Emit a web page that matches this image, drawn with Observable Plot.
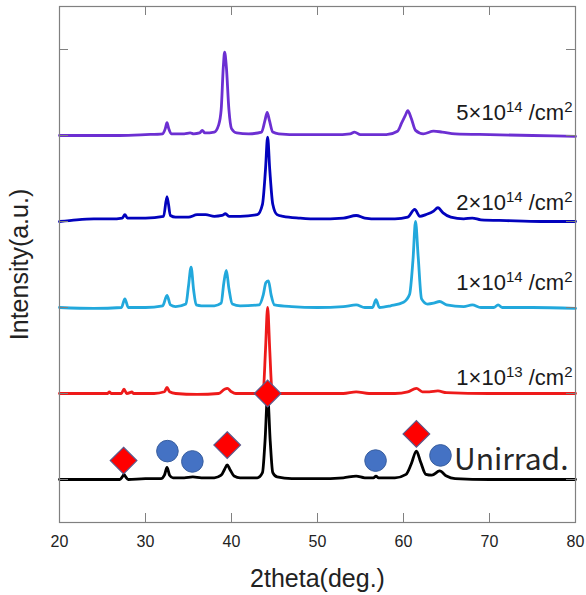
<!DOCTYPE html>
<html><head><meta charset="utf-8">
<script src="https://cdn.jsdelivr.net/npm/d3@7"></script>
<script src="https://cdn.jsdelivr.net/npm/@observablehq/plot@0.6"></script>
<style>html,body{margin:0;padding:0;background:#fff}</style>
</head><body><div id="chart"></div>
<script>
// ---- data ----
const xTicks = [20, 30, 40, 50, 60, 70, 80];
const yTicks = [0, 1, 2, 3, 4, 5];
const seriesNames = ["Unirrad.", "1×10^13 /cm^2", "1×10^14 /cm^2", "2×10^14 /cm^2", "5×10^14 /cm^2"];

const unirradiated = [[20,0],[22,0],[24,0],[26,0],[27,0],[27.3,0.03],[27.5,0.06],[27.7,0.03],[28,0],[30,0.01],[31.8,0.01],[32.2,0.05],[32.5,0.14],[32.8,0.05],[33.2,0.02],[34.5,0.02],[35.5,0.03],[36.5,0.02],[38,0.02],[38.8,0.05],[39.2,0.12],[39.5,0.17],[39.8,0.12],[40.3,0.04],[41,0.02],[43,0.02],[43.6,0.08],[43.9,0.45],[44.2,0.98],[44.5,0.45],[44.8,0.08],[45.3,0.03],[47,0.01],[50,0.01],[53,0.02],[54.5,0.04],[55.5,0.02],[56.5,0.02],[56.8,0.04],[57.1,0.02],[59,0.02],[60.3,0.06],[60.9,0.18],[61.5,0.33],[62,0.2],[62.6,0.06],[63.3,0.05],[64.2,0.1],[65,0.04],[66,0.01],[70,0],[75,0],[80,0]];

const dose1e13 = [[20,0],[24,0],[25.6,0],[25.8,0.02],[26,0],[27.2,0],[27.5,0.05],[27.8,0],[28.2,0.01],[28.4,0.02],[28.6,0],[31,0],[32.2,0.02],[32.5,0.07],[32.8,0.02],[33.5,0],[36,-0.01],[38.5,0],[39.2,0.05],[39.5,0.06],[40,0.02],[40.5,0],[43,0],[43.7,0.05],[43.95,0.5],[44.2,1.0],[44.45,0.5],[44.7,0.05],[45.2,0],[50,0],[53,0],[54.5,0.02],[56,0],[59,0],[60.5,0.02],[61.5,0.06],[62.2,0.02],[63,0.02],[64,0.03],[65,0.01],[70,0],[75,0],[80,0]];

const dose1e14 = [[20,0],[24,-0.01],[27.2,0],[27.6,0.1],[28,0],[30,0],[32,0.02],[32.5,0.14],[32.9,0.03],[33.5,0.01],[34.7,0.04],[35,0.25],[35.3,0.47],[35.6,0.2],[35.9,0.03],[36.5,0.02],[38,0.02],[38.8,0.05],[39.1,0.28],[39.4,0.43],[39.7,0.22],[40.1,0.04],[41,0.02],[43.2,0.03],[43.7,0.15],[44,0.29],[44.3,0.31],[44.6,0.15],[45,0.03],[47,0.01],[50,0],[53,0.01],[54.5,0.03],[55.5,0],[56.4,0],[56.8,0.09],[57.2,0],[58.5,0.02],[60,0.06],[60.7,0.15],[61.1,0.55],[61.4,1.0],[61.7,0.6],[62.1,0.1],[62.8,0.04],[63.5,0.05],[64.2,0.07],[65,0.03],[67,0.01],[68,0.03],[69,0],[70.5,0],[71,0.03],[71.5,0],[75,0],[80,-0.01]];

const dose2e14 = [[20,0],[22,0.02],[24,0.03],[26,0.03],[27.3,0.04],[27.6,0.08],[27.9,0.04],[30,0.04],[32.1,0.06],[32.5,0.29],[32.9,0.07],[33.5,0.05],[35,0.05],[36,0.08],[37,0.08],[38,0.06],[38.9,0.07],[39.3,0.09],[39.7,0.06],[41,0.06],[43,0.08],[43.6,0.2],[43.95,0.6],[44.2,0.98],[44.45,0.6],[44.8,0.2],[45.3,0.08],[46,0.06],[48,0.04],[50,0.03],[53,0.04],[54.5,0.07],[55.5,0.04],[57,0.03],[59,0.03],[60.5,0.05],[61.3,0.14],[61.9,0.06],[62.6,0.08],[63.5,0.12],[64,0.16],[64.6,0.1],[65.5,0.05],[67,0.03],[68,0.04],[69,0.02],[72,0.01],[76,0],[80,0]];

const dose5e14 = [[20,0],[24,0],[27,0],[30,0.01],[32,0.02],[32.3,0.08],[32.5,0.15],[32.7,0.08],[33,0.02],[34.5,0.02],[35.2,0.03],[35.6,0.02],[36.3,0.03],[36.6,0.06],[36.9,0.03],[38,0.04],[38.5,0.12],[38.8,0.3],[39.05,0.8],[39.2,0.97],[39.4,0.8],[39.7,0.3],[40,0.08],[40.6,0.03],[42,0.02],[43.5,0.04],[43.9,0.18],[44.15,0.27],[44.4,0.18],[44.8,0.04],[45.5,0.02],[48,0.01],[52,0.01],[53.8,0.02],[54.3,0.04],[55,0.01],[58,0.01],[59.3,0.05],[59.8,0.15],[60.2,0.23],[60.5,0.29],[60.9,0.2],[61.4,0.06],[62.3,0.02],[63.5,0.05],[64.5,0.04],[66,0.02],[70,0.01],[75,0],[80,-0.01]];

const diamondX = [27.45, 39.5, 44.2, 61.5];
const diamondY = [0.22, 0.40, 1.0, 0.53];
const circleX = [32.55, 35.45, 56.75, 64.3];
const circleY = [0.33, 0.21, 0.22, 0.28];

// ---- styling / layout (not data) ----
const seriesColors = ["#000000", "#ee1a1a", "#22a8dc", "#0202bd", "#6c2fd2"];
const labelLift = [-10, -9, -18, -12, -16];
const W = 586, H = 595;
const M = {top: 6, right: 11, bottom: 73, left: 59};
const innerW = W - M.left - M.right, innerH = H - M.top - M.bottom;
const tickLen = 9;
const sans = "'Liberation Sans', Arial, sans-serif";

const seriesData = [unirradiated, dose1e13, dose1e14, dose2e14, dose5e14];
const table = [];
seriesData.forEach((pts, i) => pts.forEach(([x, v]) => table.push({series: seriesNames[i], x, y: v + i})));
const labelRows = seriesNames.map((name, i) => ({name, x: 80, y: i}));
const diamonds = diamondX.map((x, i) => ({x, y: diamondY[i]}));
const circles = circleX.map((x, i) => ({x, y: circleY[i]}));

const labelMarks = labelRows.map((row, i) => Plot.text([row], {
  x: "x", y: "y", text: "name", textAnchor: "end", lineAnchor: "bottom",
  dx: i === 0 ? -7 : -3, dy: labelLift[i],
  fontSize: i === 0 ? 30 : 22,
  fontFamily: i === 0 ? "'Noto Sans CJK JP', 'Noto Sans', sans-serif" : sans,
  fill: i === 0 ? "#262626" : "#1a1a1a"
}));

const chart = Plot.plot({
  width: W, height: H,
  marginTop: M.top, marginRight: M.right, marginBottom: M.bottom, marginLeft: M.left,
  style: {fontFamily: sans, background: "#fff", color: "#222"},
  x: {domain: [20, 80]},
  y: {domain: [-0.5, 5.5]},
  color: {domain: seriesNames, range: seriesColors},
  marks: [
    Plot.line(table, {x: "x", y: "y", z: "series", stroke: "series", strokeWidth: 2.8, curve: "monotone-x", strokeLinejoin: "round"}),
    Plot.frame({stroke: "#808080", strokeWidth: 1.2}),
    Plot.ruleX(xTicks.slice(1, -1), {x: d => d, insetTop: innerH - tickLen, stroke: "#808080"}),
    Plot.ruleX(xTicks.slice(1, -1), {x: d => d, insetBottom: innerH - tickLen, stroke: "#808080"}),
    Plot.ruleY(yTicks, {y: d => d, insetRight: innerW - tickLen, stroke: "#808080"}),
    Plot.ruleY(yTicks, {y: d => d, insetLeft: innerW - tickLen, stroke: "#808080"}),
    Plot.axisX({ticks: xTicks, tickSize: 0, tickPadding: 13, fontSize: 16, label: null}),
    Plot.axisX({ticks: [], tickSize: 0, label: "2theta(deg.)", labelAnchor: "center", labelOffset: 64, labelArrow: "none", fontSize: 25}),
    Plot.axisY({ticks: [], tickSize: 0, label: "Intensity(a.u.)", labelAnchor: "center", labelOffset: 49, labelArrow: "none", fontSize: 25}),
    Plot.dot(diamonds, {x: "x", y: "y", symbol: "diamond2", r: 12, fill: "#ff0000", stroke: "#5a5a8c", strokeWidth: 1.2}),
    Plot.dot(circles, {x: "x", y: "y", r: 10.8, fill: "#4472c4", stroke: "#3a5f9f", strokeWidth: 1}),
    ...labelMarks
  ]
});

document.getElementById("chart").appendChild(chart);

// superscripts: "a^b" -> tspans
const svgNS = "http://www.w3.org/2000/svg";
chart.querySelectorAll("text").forEach(t => {
  const s = t.textContent;
  if (!s.includes("^")) return;
  const parts = s.split(/\^(\d+)/);
  while (t.firstChild) t.removeChild(t.firstChild);
  let shifted = false;
  parts.forEach((p, k) => {
    if (!p) return;
    const ts = document.createElementNS(svgNS, "tspan");
    ts.textContent = p;
    if (k % 2 === 1) {
      ts.setAttribute("font-size", "15");
      ts.setAttribute("dy", "-8");
      shifted = true;
    } else if (shifted) {
      ts.setAttribute("dy", "8");
      shifted = false;
    }
    t.appendChild(ts);
  });
});
</script>
</body></html>
